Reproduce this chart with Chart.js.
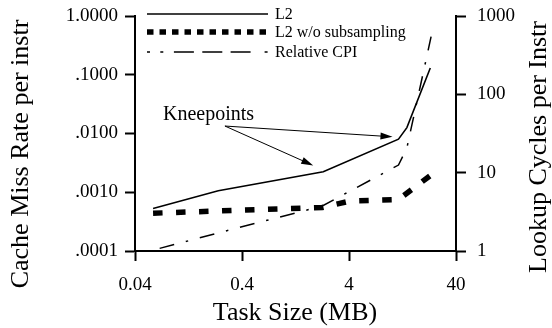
<!DOCTYPE html>
<html>
<head>
<meta charset="utf-8">
<script src="https://cdn.jsdelivr.net/npm/chart.js@4"></script>
<style>
  html, body { margin: 0; padding: 0; background: #fff; }
  #wrap { width: 552px; height: 328px; }
</style>
</head>
<body>
<div id="wrap"><canvas id="missChart" width="552" height="328"></canvas></div>
<script>
// task size (MB) vs. miss rate / lookup cycles
const l2Sizes = [0.059, 0.24, 2.3, 11.6, 13.9, 23];
const l2Rates = [0.00053, 0.00106, 0.00224, 0.0080, 0.0126, 0.130];
const noSubSizes = [0.059, 0.24, 2.25, 4.1, 11.6, 23.4];
const noSubRates = [0.00044, 0.00048, 0.00055, 0.00071, 0.00075, 0.00197];
const cpiSizes = [0.068, 0.24, 2.25, 11.6, 13.9, 23.4];
const cpiValues = [1.08, 1.70, 3.75, 12.5, 20.7, 545];

const xTicks = [0.04, 0.4, 4, 40];
const xTickLabels = ["0.04", "0.4", "4", "40"];
const missTicks = [0.0001, 0.001, 0.01, 0.1, 1];
const missTickLabels = [".0001", ".0010", ".0100", ".1000", "1.0000"];
const cycleTicks = [1, 10, 100, 1000];
const cycleTickLabels = ["1", "10", "100", "1000"];

const kneeIdx = [2, 3];           // which L2 points the arrows point at
const kneeTextAt = [0.073, 0.0207];
const kneeFrom = [0.277, 0.0134];

const SERIF = "'Liberation Serif', 'Times New Roman', serif";

function pts(xs, ys) {
  return xs.map((v, i) => ({ x: v, y: ys[i] }));
}

function logAxis(pos, min, max, ticks, labels, size, pad) {
  return {
    type: "logarithmic",
    position: pos,
    min: min,
    max: max,
    afterBuildTicks: s => { s.ticks = ticks.map(v => ({ value: v })); },
    afterFit: s => {
      if (pos === "bottom") s.height = size; else s.width = size;
      s.paddingTop = s.paddingBottom = s.paddingLeft = s.paddingRight = 0;
    },
    border: { display: true, color: "#000", width: 2 },
    grid: { drawOnChartArea: false, drawTicks: true, tickLength: 10, tickWidth: 2, tickColor: "#000" },
    ticks: {
      color: "#000",
      font: { family: SERIF, size: 19 },
      padding: pad,
      autoSkip: false,
      maxRotation: 0,
      callback: (v, i) => labels[i]
    }
  };
}

const decorPlugin = {
  id: "decor",
  afterDraw(chart) {
    const { ctx, scales: { x, y } } = chart;
    ctx.save();
    ctx.fillStyle = "#000";
    ctx.strokeStyle = "#000";

    // axis titles
    ctx.font = "26px " + SERIF;
    ctx.textAlign = "center";
    ctx.textBaseline = "middle";
    ctx.fillText("Task Size (MB)", 295, 313);
    ctx.save();
    ctx.translate(21, 154);
    ctx.rotate(-Math.PI / 2);
    ctx.fillText("Cache Miss Rate per instr", 0, 0);
    ctx.restore();
    ctx.save();
    ctx.translate(539, 147);
    ctx.rotate(-Math.PI / 2);
    ctx.fillText("Lookup Cycles per Instr", 0, 0);
    ctx.restore();

    // legend
    const rows = [
      { text: "L2", ds: 0, dash: [] },
      { text: "L2 w/o subsampling", ds: 1, dash: [6.5, 6] },
      { text: "Relative CPI", ds: 2, dash: [3, 10.3, 3, 10.6, 20, 8.4, 20, 8.3, 20, 14, 3, 100] }
    ];
    const rowY = [14, 32, 52];
    ctx.font = "16px " + SERIF;
    ctx.textAlign = "left";
    rows.forEach((r, i) => {
      const ds = chart.data.datasets[r.ds];
      ctx.lineWidth = ds.borderWidth;
      ctx.setLineDash(r.dash);
      ctx.beginPath();
      ctx.moveTo(147, rowY[i]);
      ctx.lineTo(268, rowY[i]);
      ctx.stroke();
      ctx.fillText(r.text, 275, rowY[i] + 1);
    });
    ctx.setLineDash([]);

    // Kneepoints callout
    ctx.font = "20px " + SERIF;
    ctx.fillText("Kneepoints", x.getPixelForValue(kneeTextAt[0]), y.getPixelForValue(kneeTextAt[1]));
    const ox = x.getPixelForValue(kneeFrom[0]);
    const oy = y.getPixelForValue(kneeFrom[1]);
    ctx.lineWidth = 1;
    kneeIdx.forEach((k, j) => {
      const px = x.getPixelForValue(l2Sizes[k]);
      const py = y.getPixelForValue(l2Rates[k]);
      const ang = Math.atan2(py - oy, px - ox);
      const back = j === 0 ? 10 : 5;
      const tx = px - back * Math.cos(ang) - 1;
      const ty = py - back * Math.sin(ang) - 2;
      const a = Math.atan2(ty - oy, tx - ox);
      ctx.beginPath();
      ctx.moveTo(ox, oy);
      ctx.lineTo(tx - 8 * Math.cos(a), ty - 8 * Math.sin(a));
      ctx.stroke();
      ctx.beginPath();
      ctx.moveTo(tx, ty);
      ctx.lineTo(tx - 12 * Math.cos(a) + 3.5 * Math.sin(a), ty - 12 * Math.sin(a) - 3.5 * Math.cos(a));
      ctx.lineTo(tx - 12 * Math.cos(a) - 3.5 * Math.sin(a), ty - 12 * Math.sin(a) + 3.5 * Math.cos(a));
      ctx.closePath();
      ctx.fill();
    });
    ctx.restore();
  }
};

new Chart(document.getElementById("missChart").getContext("2d"), {
  type: "line",
  data: {
    datasets: [
      {
        label: "L2",
        data: pts(l2Sizes, l2Rates),
        yAxisID: "y",
        borderColor: "#000",
        borderWidth: 1.6,
        pointRadius: 0,
        tension: 0
      },
      {
        label: "L2 w/o subsampling",
        data: pts(noSubSizes, noSubRates),
        yAxisID: "y",
        borderColor: "#000",
        borderWidth: 5.5,
        borderDash: [9.5, 13.5],
        borderCapStyle: "butt",
        pointRadius: 0,
        tension: 0
      },
      {
        label: "Relative CPI",
        data: pts(cpiSizes, cpiValues),
        yAxisID: "y2",
        borderColor: "#000",
        borderWidth: 1.5,
        borderDash: [15, 12, 2.5, 12],
        pointRadius: 0,
        tension: 0
      }
    ]
  },
  options: {
    responsive: false,
    animation: false,
    devicePixelRatio: 1,
    layout: { padding: { top: 16, left: 0, right: 0, bottom: 0 } },
    plugins: {
      legend: { display: false },
      tooltip: { enabled: false }
    },
    scales: {
      x: logAxis("bottom", 0.04, 40, xTicks, xTickLabels, 77, 13),
      y: logAxis("left", 0.0001, 1, missTicks, missTickLabels, 135, 7),
      y2: logAxis("right", 1, 1000, cycleTicks, cycleTickLabels, 96, 11)
    }
  },
  plugins: [decorPlugin]
});
</script>
</body>
</html>
